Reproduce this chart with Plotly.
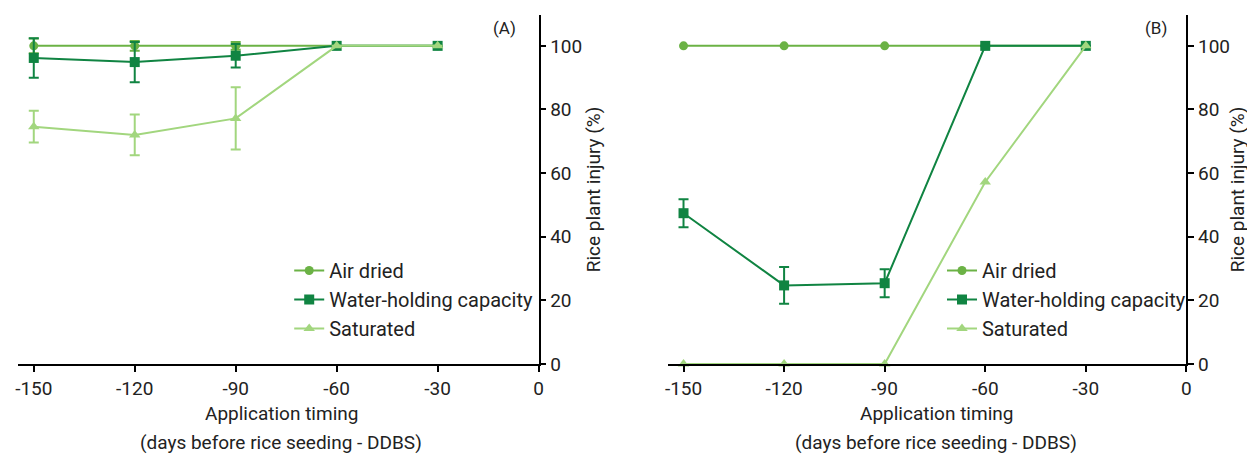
import plotly.graph_objects as go

days = [-150, -120, -90, -60, -30]
x_ticks = [-150, -120, -90, -60, -30, 0]
x_ticktext = ["-150", "-120", "-90", "-60", "-30", "0"]
y_ticks = [0, 20, 40, 60, 80, 100]
series_names = ["Air dried", "Water-holding capacity", "Saturated"]

# Panel A
a_air = [100, 100, 100, 100, 100]
a_air_err = [2.3, 1.5, 1.2, 0, 0]
a_whc = [96.2, 94.9, 96.9, 100, 100]
a_whc_err = [6.2, 6.3, 3.7, 0, 0]
a_sat = [74.6, 72.0, 77.2, 100, 100]
a_sat_err = [5.0, 6.4, 9.8, 0, 0]

# Panel B
b_air = [100, 100, 100, 100, 100]
b_whc = [47.4, 24.7, 25.4, 100, 100]
b_whc_err = [4.4, 5.8, 4.4, 0, 0]
b_sat = [0, 0, 0, 57.2, 100]

colors = ["#6BB245", "#108442", "#A2D67E"]
symbols = ["circle", "square", "triangle-up"]
msizes = [9, 10, 10]

FONT = "Roboto"
TXT = "#222"

# figure-pixel helpers (page body adds 8px offset)
W, H = 1247, 446
TOP, BOT = 7, 356
def px(x):
    return x / W
def py(y):
    return 1 - (y - TOP) / (BOT - TOP)

fig = go.Figure()

def add(x, y, err, i, xa, ya, legend):
    kw = {}
    if err is not None:
        kw["error_y"] = dict(type="data", array=err, visible=True, color=colors[i],
                             thickness=2, width=5)
    fig.add_trace(go.Scatter(
        x=x, y=y, mode="lines+markers", name=series_names[i],
        line=dict(color=colors[i], width=2),
        marker=dict(color=colors[i], symbol=symbols[i], size=msizes[i]),
        xaxis=xa, yaxis=ya, legend=legend, cliponaxis=False, **kw))

add(days, a_air, a_air_err, 0, "x", "y", "legend")
add(days, a_whc, a_whc_err, 1, "x", "y", "legend")
add(days, a_sat, a_sat_err, 2, "x", "y", "legend")
add(days, b_air, None, 0, "x2", "y2", "legend2")
add(days, b_whc, b_whc_err, 1, "x2", "y2", "legend2")
add(days, b_sat, None, 2, "x2", "y2", "legend2")

xcommon = dict(range=[-154.7, 0], tickvals=x_ticks, ticktext=x_ticktext,
               ticks="outside", ticklen=6, tickwidth=1.5, tickcolor="black",
               showline=True, linecolor="black", linewidth=1.5, showgrid=False,
               zeroline=False, tickfont=dict(size=19, color=TXT))

def ycommon(standoff):
    return dict(range=[0, 109.7], tickvals=y_ticks, side="right",
                ticks="outside", ticklen=6, tickwidth=1.5, tickcolor="black",
                showline=True, linecolor="black", linewidth=1.5, showgrid=False,
                zeroline=False, tickfont=dict(size=19, color=TXT),
                title=dict(text="Rice plant injury (%)", font=dict(size=19, color=TXT),
                           standoff=standoff))

leg_common = dict(xref="paper", yref="paper", xanchor="left", yanchor="top",
                  bgcolor="rgba(0,0,0,0)", font=dict(size=20, color=TXT),
                  tracegroupgap=0)

def ann(text, x, y, size):
    return dict(text=text, x=px(x), y=py(y), xref="paper", yref="paper",
                showarrow=False, font=dict(size=size, color=TXT),
                xanchor="center", yanchor="middle")

fig.update_layout(
    width=W, height=H,
    margin=dict(l=0, r=0, t=TOP, b=H - BOT),
    paper_bgcolor="white", plot_bgcolor="white",
    font=dict(family=FONT, size=19, color=TXT),
    xaxis=dict(domain=[px(7), px(531)], anchor="y", **xcommon),
    yaxis=dict(domain=[0, 1], anchor="x", **ycommon(6)),
    xaxis2=dict(domain=[px(661), px(1183)], anchor="y2", **xcommon),
    yaxis2=dict(domain=[0, 1], anchor="x2", **ycommon(2)),
    legend=dict(x=px(280), y=py(243), **leg_common),
    legend2=dict(x=px(937), y=py(243), **leg_common),
    showlegend=True,
    annotations=[
        ann("(A)", 497, 20, 17),
        ann("(B)", 1152, 20, 17),
        ann("Application timing", 272, 405, 19),
        ann("(days before rice seeding - DDBS)", 272, 434, 19),
        ann("Application timing", 931, 405, 19),
        ann("(days before rice seeding - DDBS)", 931, 434, 19),
    ],
)

fig.write_html("out.html")
